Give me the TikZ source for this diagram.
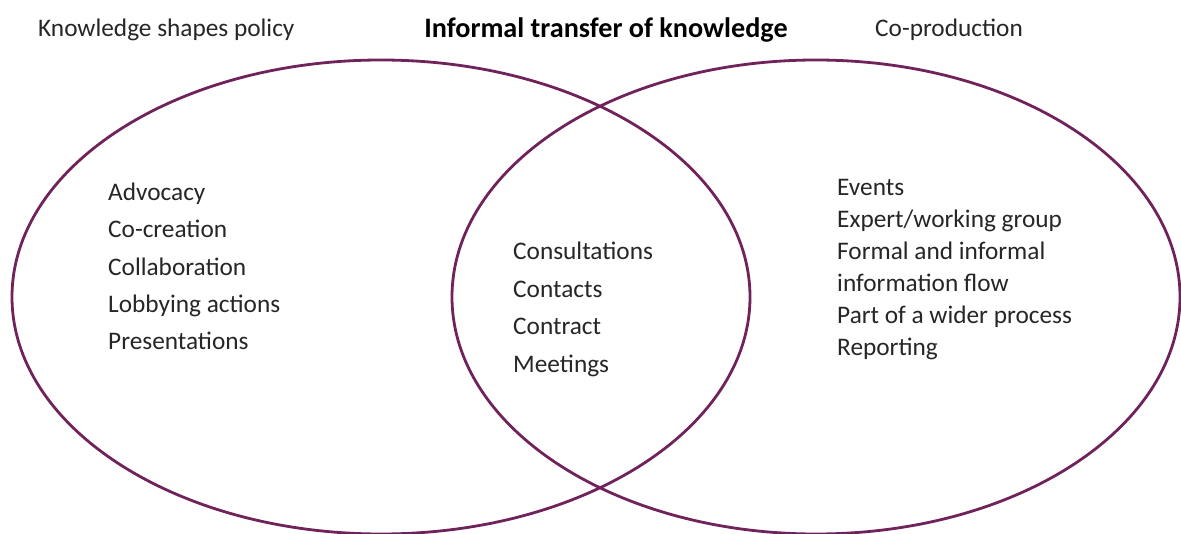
\documentclass[tikz,border=0pt]{standalone}
\usepackage{fontspec}
\setsansfont{Carlito}
\usepackage{tikz}
\usetikzlibrary{positioning}
\definecolor{plum}{RGB}{112,34,90}

\begin{document}
\begin{tikzpicture}[x=1pt, y=-1pt, font=\sffamily\fontsize{25.3}{30}\selectfont,
	item/.style={anchor=base west, inner sep=0pt, text=black!85},
	ring/.style={draw=plum, line width=2.8pt}]
	\def\Ry{237}
	\useasboundingbox (0,0) rectangle (1181,534);
	
	\draw[ring] (381,297) ellipse (369 and \Ry);
	\draw[ring] (816,297) ellipse (364 and \Ry);
	
	\node[item] (policy) at (38,37) {Knowledge shapes policy};
	\node[anchor=base, inner sep=0pt, font=\sffamily\bfseries\fontsize{28.2}{33}\selectfont] (informal) at (606,37.5) {Informal transfer of knowledge};
	\node[item] (coprod) at (875,37) {Co-production};
	
	\foreach \t [count=\i] in {Advocacy, Co-creation, Collaboration, Lobbying actions, Presentations}	{
		\node[item] (left\i) at (108,200.5+37.3*\i-37.3) {\t};
	}
	
	\foreach \t [count=\i] in {Consultations, Contacts, Contract, Meetings}	{
		\node[item] (mid\i) at (513,259.5+37.6*\i-37.6) {\t};
	}
	
	\foreach \t [count=\i] in {Events, Expert/working group, Formal and informal, information flow, Part of a wider process, Reporting}	{
		\node[item] (right\i) at (837,196+32*\i-32) {\t};
	}
\end{tikzpicture}
\end{document}
